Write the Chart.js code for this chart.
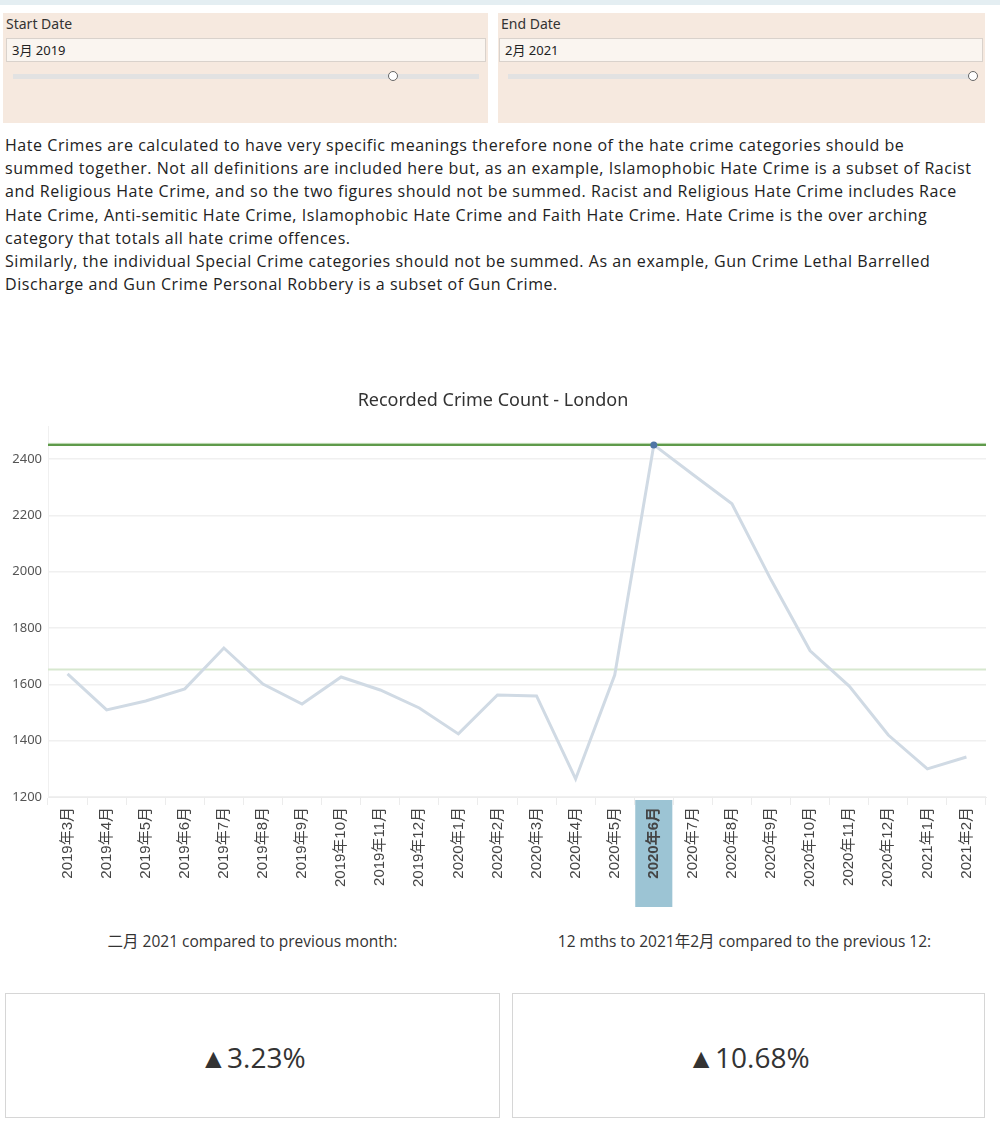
<!DOCTYPE html>
<html>
<head>
<meta charset="utf-8">
<script src="https://cdn.jsdelivr.net/npm/chart.js@4"></script>
<style>
  body { margin: 0; background: #fff; width: 1000px; height: 1129px; position: relative; overflow: hidden; font-family: "Open Sans", "Noto Sans", sans-serif; color: #222; }
  .topbar { position: absolute; left: 0; top: 0; width: 1000px; height: 5px; background: #e4eef2; }
  .panel { position: absolute; top: 13px; height: 110px; background: #f6e9df; }
  .panel .lbl { position: absolute; left: 3px; top: 1px; font-size: 14px; color: #333; font-family: "Noto Sans", sans-serif; }
  .panel .box { position: absolute; left: 3px; right: 2px; top: 25px; height: 24px; background: #faf5f0; border: 1px solid #d9d2cc; font-size: 13px; line-height: 22px; padding-left: 5px; font-family: "Noto Sans", "Noto Sans CJK SC", sans-serif; color: #222; box-sizing: border-box; }
  .panel .track { position: absolute; top: 61px; height: 5px; background: #e2e2e2; }
  .panel .thumb { position: absolute; top: 58px; width: 8px; height: 8px; border: 1.5px solid #666; border-radius: 50%; background: #fff; }
  .note { position: absolute; left: 5px; top: 134px; font-size: 16px; letter-spacing: 0.55px; line-height: 23.2px; white-space: nowrap; color: #222; }
  #wrap { position: absolute; left: 0; top: 380px; width: 1000px; height: 530px; }
  .cmp { position: absolute; top: 929px; font-size: 15.5px; color: #333; font-family: "Open Sans", "Noto Sans CJK SC", sans-serif; text-align: center; }
  .kpi { position: absolute; top: 993px; height: 125px; border: 1.5px solid #d6d6d6; box-sizing: border-box; text-align: center; line-height: 126px; font-size: 28px; color: #333; font-family: "Open Sans", sans-serif; }
</style>
</head>
<body>
<div class="topbar"></div>
<div class="panel" style="left:3px;width:485px;">
  <div class="lbl">Start Date</div>
  <div class="box">3月 2019</div>
  <div class="track" style="left:10px;width:466px;"></div>
  <div class="thumb" style="left:385px;"></div>
</div>
<div class="panel" style="left:498px;width:487px;">
  <div class="lbl">End Date</div>
  <div class="box" style="left:1px;">2月 2021</div>
  <div class="track" style="left:10px;width:466px;"></div>
  <div class="thumb" style="left:470px;"></div>
</div>
<div class="note">Hate Crimes are calculated to have very specific meanings therefore none of the hate crime categories should be<br>summed together. Not all definitions are included here but, as an example, Islamophobic Hate Crime is a subset of Racist<br>and Religious Hate Crime, and so the two figures should not be summed. Racist and Religious Hate Crime includes Race<br>Hate Crime, Anti-semitic Hate Crime, Islamophobic Hate Crime and Faith Hate Crime. Hate Crime is the over arching<br>category that totals all hate crime offences.<br>Similarly, the individual Special Crime categories should not be summed. As an example, Gun Crime Lethal Barrelled<br>Discharge and Gun Crime Personal Robbery is a subset of Gun Crime.</div>
<div id="wrap"><canvas id="chart"></canvas></div>
<div class="cmp" style="left:5px;width:495px;">二月 2021 compared to previous month:</div>
<div class="cmp" style="left:497px;width:495px;">12 mths to 2021年2月 compared to the previous 12:</div>
<div class="kpi" style="left:5px;width:495px;">▲3.23%</div>
<div class="kpi" style="left:512px;width:473px;">▲10.68%</div>
<script>
const months = ['2019年3月', '2019年4月', '2019年5月', '2019年6月', '2019年7月', '2019年8月',
  '2019年9月', '2019年10月', '2019年11月', '2019年12月', '2020年1月', '2020年2月',
  '2020年3月', '2020年4月', '2020年5月', '2020年6月', '2020年7月', '2020年8月',
  '2020年9月', '2020年10月', '2020年11月', '2020年12月', '2021年1月', '2021年2月'];
const crimeCount = [1637, 1509, 1541, 1584, 1729, 1601, 1530, 1626, 1580, 1516, 1424, 1562,
  1559, 1264, 1633, 2450, 2345, 2241, 1971, 1719, 1594, 1420, 1300, 1342];
const maxValue = 2450;
const avgValue = 1653;
const selectedMonth = '2020年6月';

const peakIndex = crimeCount.indexOf(Math.max(...crimeCount));

const refLines = {
  id: 'refLines',
  beforeDraw(chart) {
    const ctx = chart.ctx, x = chart.scales.x, area = chart.chartArea;
    const i = months.indexOf(selectedMonth);
    const w = x.getPixelForValue(1) - x.getPixelForValue(0);
    const cx = x.getPixelForValue(i);
    ctx.save();
    ctx.fillStyle = '#9cc4d4';
    ctx.fillRect(cx - w / 2 + 1, area.bottom + 3, w - 2, 107);
    ctx.restore();
  },
  beforeDatasetsDraw(chart) {
    const ctx = chart.ctx, y = chart.scales.y, area = chart.chartArea;
    ctx.save();
    let py = y.getPixelForValue(avgValue);
    ctx.strokeStyle = '#d7e8cf';
    ctx.lineWidth = 2;
    ctx.beginPath(); ctx.moveTo(area.left, py); ctx.lineTo(area.right, py); ctx.stroke();
    py = y.getPixelForValue(maxValue);
    ctx.strokeStyle = '#b3d4a6';
    ctx.lineWidth = 1;
    ctx.beginPath(); ctx.moveTo(area.left, py - 1.5); ctx.lineTo(area.right, py - 1.5); ctx.stroke();
    ctx.strokeStyle = '#5f9a4b';
    ctx.lineWidth = 2;
    ctx.beginPath(); ctx.moveTo(area.left, py); ctx.lineTo(area.right, py); ctx.stroke();
    ctx.restore();
  }
};

new Chart(document.getElementById('chart'), {
  type: 'line',
  data: {
    labels: months,
    datasets: [{
      data: crimeCount,
      borderColor: '#d0dae4',
      borderWidth: 3,
      tension: 0,
      pointRadius: c => c.dataIndex === peakIndex ? 3.5 : 0,
      pointBackgroundColor: '#4f76a6',
      pointBorderWidth: 0
    }]
  },
  options: {
    responsive: true,
    maintainAspectRatio: false,
    animation: false,
    layout: { padding: { left: 0, right: 14, top: 0, bottom: 0 } },
    plugins: {
      legend: { display: false },
      tooltip: { enabled: false },
      title: {
        display: true,
        text: 'Recorded Crime Count - London',
        color: '#333',
        font: { family: 'Noto Sans', size: 18, weight: 'normal' },
        padding: { top: 10, bottom: 15 }
      }
    },
    scales: {
      x: {
        offset: true,
        grid: { offset: true, drawOnChartArea: false, drawTicks: true, tickLength: 8, color: '#ececec' },
        border: { color: '#ececec' },
        ticks: {
          minRotation: 90, maxRotation: 90, autoSkip: false, padding: 2,
          color: '#444',
          font: c => ({ family: 'Liberation Sans, Noto Sans CJK SC', size: 15,
            weight: months[c.index] === selectedMonth ? 'bold' : 'normal' })
        },
        afterFit(s) { s.height = 113; }
      },
      y: {
        min: 1200,
        max: 2515,
        grid: { color: '#f0f0f0', drawTicks: false, lineWidth: 1.5 },
        border: { color: '#f0f0f0' },
        ticks: {
          stepSize: 200, padding: 6, color: '#555',
          font: { family: 'Noto Sans', size: 13 },
          callback: v => String(v)
        },
        afterBuildTicks(s) { s.ticks = s.ticks.filter(t => t.value % 200 === 0); },
        afterFit(s) { s.width = 48; }
      }
    }
  },
  plugins: [refLines]
});
</script>
</body>
</html>
